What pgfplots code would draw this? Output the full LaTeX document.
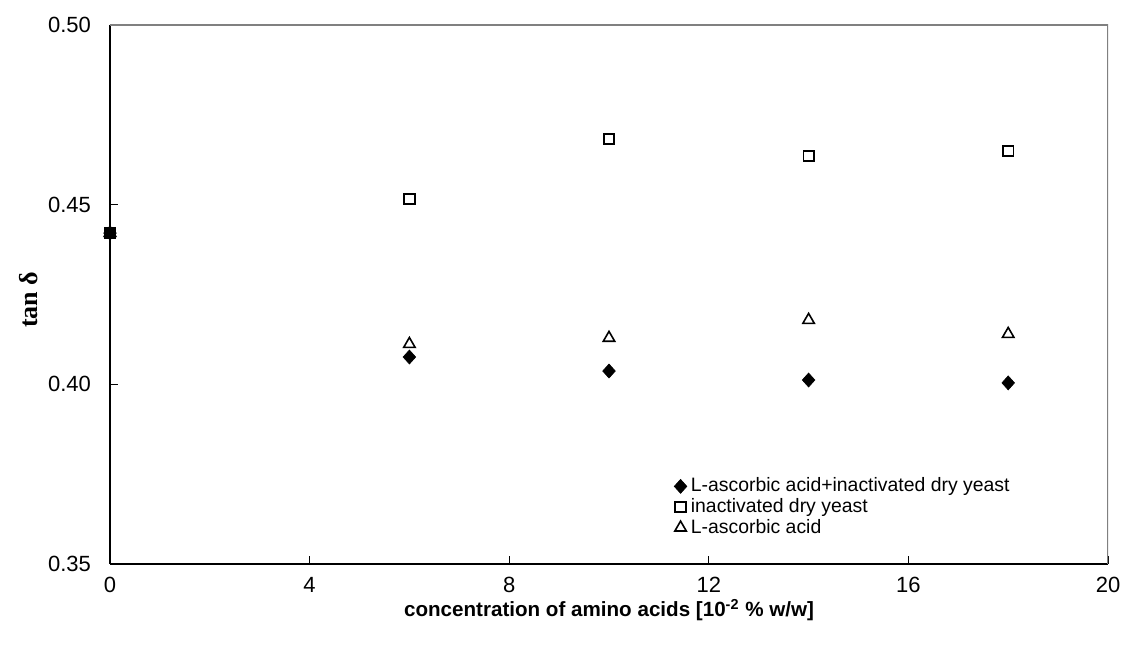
\documentclass[border=0pt]{standalone}
\usepackage{fontspec}
\setmainfont{Liberation Sans}
\newfontfamily\timesfont{Liberation Serif}
\usepackage{pgfplots}
\pgfplotsset{compat=1.18}
\begin{document}
\begin{tikzpicture}
\useasboundingbox (-55pt,-42pt) rectangle (507pt,282pt);
\begin{axis}[
  scale only axis,
  width=499pt, height=269.5pt,
  xmin=0, xmax=20, ymin=0.35, ymax=0.50,
  axis lines*=left,
  xtick={0,4,...,20},
  ytick={0.35,0.40,0.45,0.50},
  tick align=inside,
  major tick length=4pt,
  minor tick num=0,
  /pgf/number format/assume math mode=true,
  yticklabel style={/pgf/number format/fixed,/pgf/number format/fixed zerofill,/pgf/number format/precision=2, font=\fontsize{11}{12}\selectfont, xshift=-6pt},
  xticklabel style={font=\fontsize{11}{12}\selectfont, yshift=-3pt},
  scaled y ticks=false,
  axis line style={black, line width=0.8pt},
  tick style={black, line width=0.6pt},
  xlabel={\textbf{concentration of amino acids [10\textsuperscript{-2} \% w/w]}},
  xlabel style={at={(axis description cs:0.5,0)}, anchor=base, yshift=-26.5pt, font=\fontsize{10.3}{12}\selectfont},
  ylabel={\timesfont\bfseries tan δ},
  ylabel style={at={(axis description cs:-0.082,0.49)}, anchor=center, font=\fontsize{13}{14}\selectfont},
  legend style={draw=none, fill=none, at={(0.565,0.168)}, anchor=north west, font=\fontsize{9.7}{10.5}\selectfont, row sep=-2.2pt, inner sep=0pt},
  legend cell align=left,
  legend image code/.code={\draw[#1] plot coordinates {(0.15cm,0cm)};},
]
\draw[gray, line width=0.9pt] (rel axis cs:0,1) -- (rel axis cs:1,1) -- (rel axis cs:1,0);
\addplot[only marks, mark=diamond*, mark size=3.5pt, mark options={fill=black, draw=black, line width=0.3pt, xscale=1.2}] coordinates {
(0,0.4421) (6,0.4076) (10,0.4037) (14,0.4012) (18,0.4004)};
\addlegendentry{L-ascorbic acid+inactivated dry yeast}
\addplot[only marks, mark=square, mark size=2.6pt, mark options={draw=black, line width=0.9pt}] coordinates {
(0,0.4421) (6,0.4516) (10,0.4683) (14,0.4635) (18,0.4649)};
\addlegendentry{inactivated dry yeast}
\addplot[only marks, mark=triangle, mark size=3.3pt, mark options={draw=black, line width=0.8pt}] coordinates {
(0,0.4421) (6,0.4112) (10,0.4129) (14,0.4179) (18,0.4140)};
\addlegendentry{L-ascorbic acid}
\addplot[only marks, mark=square*, mark size=2.8pt, mark options={fill=black, draw=black}, forget plot] coordinates {(0,0.4421)};
\end{axis}
\end{tikzpicture}
\end{document}
